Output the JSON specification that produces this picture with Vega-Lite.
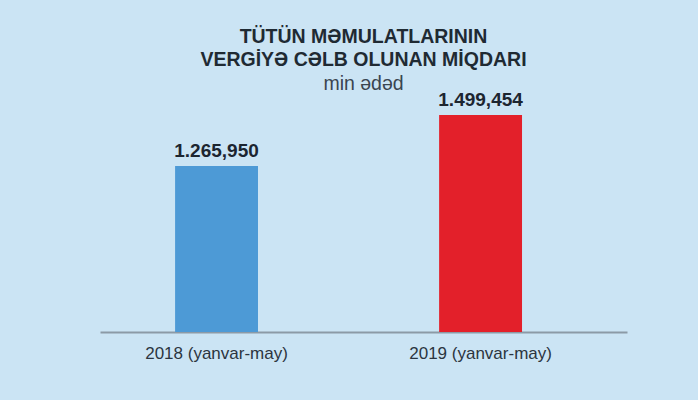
{
  "$schema": "https://vega.github.io/schema/vega-lite/v6.json",
  "width": 527,
  "height": 232,
  "autosize": "none",
  "padding": {"left": 100, "top": 100, "right": 71, "bottom": 68},
  "background": "#cbe4f4",
  "config": {"view": {"stroke": null}},
  "title": {
    "text": ["TÜTÜN MƏMULATLARININ", "VERGİYƏ CƏLB OLUNAN MİQDARI"],
    "subtitle": "min ədəd",
    "anchor": "middle",
    "font": "Liberation Sans",
    "fontSize": 19.5,
    "fontWeight": "bold",
    "color": "#1f2a33",
    "lineHeight": 23,
    "subtitleFont": "Liberation Sans",
    "subtitleFontSize": 19.5,
    "subtitleColor": "#3a4550",
    "subtitlePadding": 5,
    "offset": -4
  },
  "data": {
    "values": [
      {"period": "2018 (yanvar-may)", "value": 1265950, "label": "1.265,950"},
      {"period": "2019 (yanvar-may)", "value": 1499454, "label": "1.499,454"}
    ]
  },
  "encoding": {
    "x": {
      "field": "period",
      "type": "nominal",
      "sort": null,
      "scale": {"paddingInner": 0.686, "paddingOuter": 0.341, "align": 0.417},
      "axis": {
        "title": null,
        "labelAngle": 0,
        "ticks": false,
        "domainColor": "#8c9aa6",
        "domainWidth": 2,
        "labelFont": "Liberation Sans",
        "labelFontSize": 17,
        "labelColor": "#2b3540",
        "labelPadding": 13
      }
    },
    "y": {
      "field": "value",
      "type": "quantitative",
      "scale": {"domain": [506000, 1568000], "zero": false, "nice": false},
      "axis": null
    }
  },
  "layer": [
    {
      "mark": {"type": "bar"},
      "encoding": {
        "y2": {"datum": 506000},
        "color": {
          "field": "period",
          "type": "nominal",
          "sort": null,
          "scale": {"range": ["#4d9ad6", "#e3202a"]},
          "legend": null
        }
      }
    },
    {
      "mark": {
        "type": "text",
        "dy": -5,
        "baseline": "bottom",
        "font": "Liberation Sans",
        "fontWeight": "bold",
        "fontSize": 19,
        "color": "#1c2530"
      },
      "encoding": {"text": {"field": "label"}}
    }
  ]
}
